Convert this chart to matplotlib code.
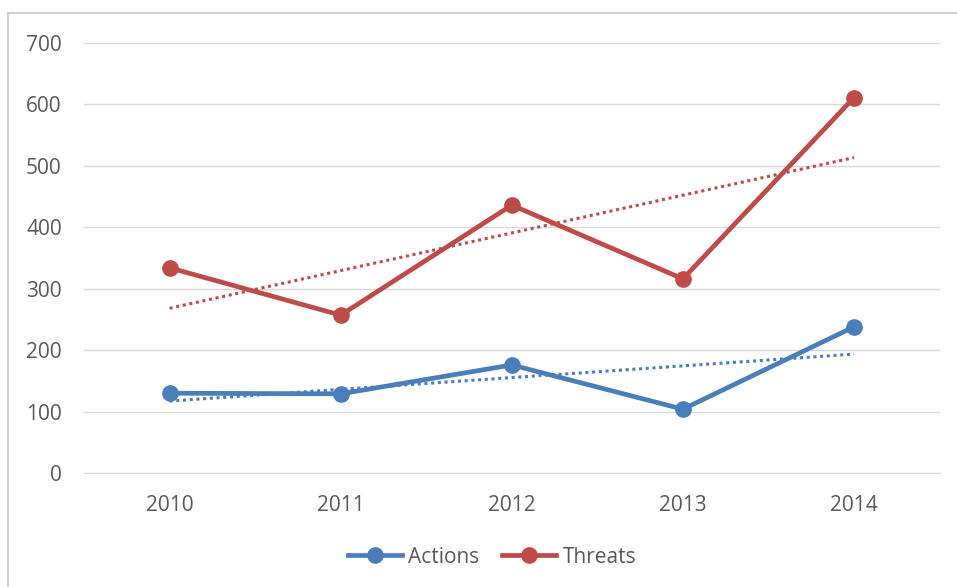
import matplotlib.pyplot as plt
import numpy as np
from matplotlib.patches import Rectangle

years = ['2010', '2011', '2012', '2013', '2014']
actions = [130, 129, 176, 104, 238]
threats = [334, 257, 436, 316, 611]

blue = '#4a7ebb'
red = '#be4b48'
gris = '#595959'

fig = plt.figure(figsize=(9.57, 5.87), dpi=100)
ax = fig.add_axes([0.0878, 0.194, 0.894, 0.733])

x = np.arange(len(years)) + 0.5

# lineas de tendencia (regresion lineal, como Excel)
for serie, col in [(actions, blue), (threats, red)]:
    a, b = np.polyfit(x, serie, 1)
    ax.plot(x, a * x + b, color=col, lw=2.2, ls=(0, (1, 1.2)), zorder=2)

ax.plot(x, actions, color=blue, lw=3.4, marker='o', ms=11, label='Actions', zorder=3)
ax.plot(x, threats, color=red, lw=3.4, marker='o', ms=11, label='Threats', zorder=3)

ax.set_xlim(0, 5)
ax.set_ylim(0, 700)
ax.set_yticks(range(0, 701, 100))
ax.set_xticks(x)
ax.set_xticklabels(years)
ax.grid(axis='y', color='#d9d9d9', lw=1)
ax.set_axisbelow(True)
for s in ax.spines.values():
    s.set_visible(False)
ax.spines['bottom'].set_visible(True)
ax.spines['bottom'].set_color('#d9d9d9')
ax.tick_params(length=0, labelsize=15, labelcolor=gris)
ax.tick_params(axis='x', pad=16)
ax.tick_params(axis='y', pad=16)
for t in ax.get_xticklabels() + ax.get_yticklabels():
    t.set_family('Open Sans')

leg = fig.legend(loc='center', bbox_to_anchor=(0.514, 0.051), ncol=2, frameon=False,
                 prop={'family': 'Open Sans', 'size': 15}, handlelength=2.6,
                 columnspacing=1.1, handletextpad=0.3)
for t in leg.get_texts():
    t.set_color(gris)

# borde del grafico
fig.patches.append(Rectangle((8 / 957, -0.1), 1.2, 1 - 13 / 587 + 0.1, transform=fig.transFigure,
                             fill=False, ec='#d0d0d0', lw=1.5))

plt.savefig('out.png', dpi=100)
